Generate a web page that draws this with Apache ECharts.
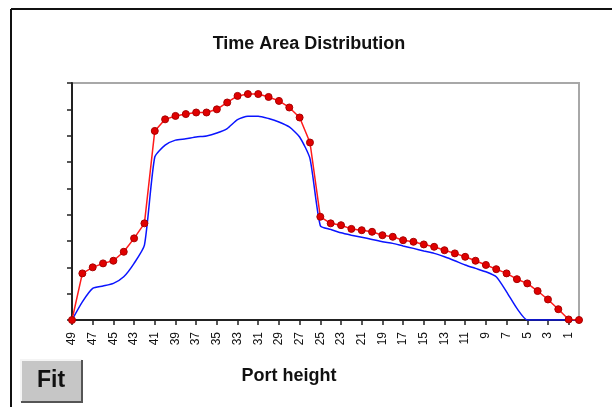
<!DOCTYPE html>
<html>
<head>
<meta charset="utf-8">
<script src="https://cdn.jsdelivr.net/npm/echarts@6/dist/echarts.min.js"></script>
<style>
html,body{margin:0;padding:0;background:#fff;}
#chart{width:612px;height:407px;}
</style>
</head>
<body>
<div id="chart"></div>
<script>
var categories = ['49','48','47','46','45','44','43','42','41','40','39','38','37','36','35','34','33','32','31','30','29','28','27','26','25','24','23','22','21','20','19','18','17','16','15','14','13','12','11','10','9','8','7','6','5','4','3','2','1','0'];
var redValues = [0,1.77,2.0,2.15,2.25,2.59,3.1,3.67,7.18,7.62,7.75,7.82,7.88,7.88,8.0,8.26,8.51,8.58,8.58,8.47,8.32,8.07,7.69,6.74,3.92,3.67,3.6,3.46,3.41,3.35,3.22,3.16,3.03,2.97,2.87,2.78,2.65,2.53,2.4,2.25,2.09,1.93,1.77,1.55,1.39,1.1,0.78,0.41,0.02,0];
var blueValues = [0,0.69,1.2,1.29,1.39,1.64,2.15,2.84,6.19,6.64,6.83,6.88,6.95,6.99,7.1,7.27,7.61,7.74,7.74,7.65,7.52,7.33,6.95,6.13,3.58,3.44,3.31,3.22,3.14,3.06,2.97,2.91,2.81,2.72,2.62,2.53,2.4,2.25,2.09,1.96,1.83,1.64,1.07,0.44,0,0,0,0,0,0];
var titleText = 'Time Area Distribution';
var xAxisTitle = 'Port height';
var buttonText = 'Fit';

var chart = echarts.init(document.getElementById('chart'));
chart.setOption({
  animation: false,
  backgroundColor: '#ffffff',
  grid: {left: 72, top: 83, right: 33, bottom: 87, show: true, borderColor: '#a8a8a8', borderWidth: 2, backgroundColor: 'transparent'},
  xAxis: {
    type: 'category',
    data: categories,
    boundaryGap: false,
    axisLine: {lineStyle: {color: '#222', width: 2}},
    axisTick: {interval: 1, length: 5, lineStyle: {color: '#222', width: 1.5}},
    axisLabel: {interval: 1, rotate: 90, margin: 12, fontSize: 12, fontFamily: '"Liberation Sans", Arial, sans-serif', color: '#111'},
    splitLine: {show: false}
  },
  yAxis: {
    type: 'value',
    min: 0, max: 9, interval: 1,
    axisLine: {show: true, lineStyle: {color: '#222', width: 2}},
    axisTick: {show: true, length: 5, lineStyle: {color: '#222', width: 1.5}},
    axisLabel: {show: false},
    splitLine: {show: false}
  },
  series: [
    {
      type: 'line', data: blueValues, symbol: 'none', smooth: 0.2,
      lineStyle: {color: '#0a14ff', width: 1.5}, z: 2
    },
    {
      type: 'line', data: redValues, symbol: 'circle', symbolSize: 7, showAllSymbol: true,
      lineStyle: {color: '#ff1a1a', width: 1.5},
      itemStyle: {color: '#e00000', borderColor: '#a80000', borderWidth: 1}, z: 3
    }
  ],
  graphic: [
    {type: 'line', shape: {x1: 11, y1: 9, x2: 612, y2: 9}, style: {stroke: '#111', lineWidth: 2}},
    {type: 'line', shape: {x1: 11, y1: 9, x2: 11, y2: 407}, style: {stroke: '#111', lineWidth: 2}},
    {type: 'text', x: 309, y: 44, style: {text: titleText, fill: '#111', font: 'bold 18px "Liberation Sans", Arial, sans-serif', align: 'center', verticalAlign: 'middle'}},
    {type: 'text', x: 289, y: 376, style: {text: xAxisTitle, fill: '#111', font: 'bold 18px "Liberation Sans", Arial, sans-serif', align: 'center', verticalAlign: 'middle'}},
    {type: 'rect', shape: {x: 21, y: 360, width: 61, height: 42}, style: {fill: '#c6c6c6', stroke: null}},
    {type: 'polyline', shape: {points: [[21, 402], [21, 360], [82, 360]]}, style: {stroke: '#f4f4f4', lineWidth: 2, fill: null}},
    {type: 'polyline', shape: {points: [[21, 402], [82, 402], [82, 360]]}, style: {stroke: '#555', lineWidth: 2, fill: null}},
    {type: 'text', x: 51, y: 381, style: {text: buttonText, fill: '#111', font: 'bold 23px "Liberation Sans", Arial, sans-serif', align: 'center', verticalAlign: 'middle'}}
  ]
});
</script>
</body>
</html>
